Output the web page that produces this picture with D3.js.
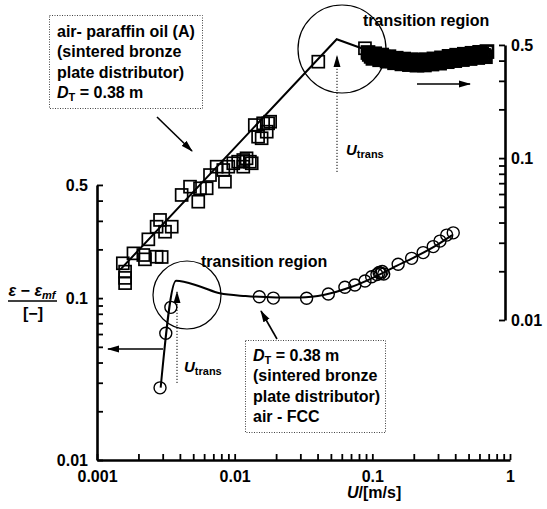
<!DOCTYPE html>
<html>
<head>
<meta charset="utf-8">
<script src="https://cdn.jsdelivr.net/npm/d3@7"></script>
<style>
body { margin: 0; background: #fff; }
svg { display: block; font-family: "Liberation Sans", Arial, sans-serif; font-weight: bold; }
</style>
</head>
<body>
<svg id="chart" width="547" height="509"></svg>
<script>
// air - FCC, read against the left axis (circles)
var fccU   = [0.00287, 0.00316, 0.00344, 0.0151, 0.0191, 0.0333, 0.0479, 0.0632, 0.0747, 0.0884, 0.0989,
              0.108, 0.112, 0.115, 0.118, 0.121, 0.154, 0.193, 0.234, 0.277, 0.310, 0.347, 0.387];
var fccEps = [0.0279, 0.0606, 0.0877, 0.102, 0.100, 0.0997, 0.106, 0.1166, 0.1205, 0.1276, 0.1356,
              0.140, 0.144, 0.142, 0.146, 0.141, 0.162, 0.176, 0.191, 0.208, 0.225, 0.245, 0.253];
var fccFitU   = [0.0029, 0.00375, 0.0056, 0.0078, 0.012, 0.02, 0.03, 0.045, 0.07, 0.1, 0.15, 0.2, 0.3, 0.38];
var fccFitEps = [0.028, 0.128, 0.118, 0.107, 0.103, 0.101, 0.101, 0.105, 0.117, 0.133, 0.158, 0.178, 0.215, 0.245];

// air - paraffin oil (A), read against the right axis (squares), below the transition
var oilU   = [0.00154, 0.0016, 0.0016, 0.0016, 0.00184, 0.00217, 0.00223, 0.00271, 0.00295, 0.00236,
              0.00271, 0.00287, 0.00312, 0.00349, 0.00412, 0.00474, 0.00544, 0.0056, 0.00626, 0.00662,
              0.0074, 0.0085, 0.00827, 0.00899, 0.00977, 0.0106, 0.01155, 0.0122, 0.0129, 0.0133,
              0.01155, 0.0140, 0.0161, 0.0175, 0.0148, 0.0157, 0.0171, 0.0181, 0.0405, 0.0884];
var oilEps = [0.0224, 0.0199, 0.0182, 0.0169, 0.0258, 0.0252, 0.0237, 0.0246, 0.0245, 0.0315,
              0.0377, 0.0415, 0.0351, 0.0377, 0.0592, 0.0666, 0.0538, 0.0651, 0.0651, 0.0786,
              0.0885, 0.0715, 0.0844, 0.0885, 0.0929, 0.0950, 0.0973, 0.0997, 0.0950, 0.0929,
              0.0885, 0.160, 0.164, 0.164, 0.1356, 0.1326, 0.1456, 0.1678, 0.394, 0.477];

// the dense cloud of squares above the transition
var cloudU   = [0.093, 0.095, 0.098, 0.101, 0.104, 0.107, 0.110, 0.113, 0.117, 0.120,
                0.124, 0.128, 0.132, 0.136, 0.140, 0.145, 0.149, 0.154, 0.159, 0.164,
                0.169, 0.174, 0.180, 0.186, 0.192, 0.198, 0.204, 0.211, 0.218, 0.225,
                0.232, 0.239, 0.247, 0.255, 0.263, 0.271, 0.280, 0.289, 0.298, 0.308,
                0.318, 0.328, 0.339, 0.350, 0.361, 0.373, 0.385, 0.397, 0.410, 0.423,
                0.437, 0.451, 0.466, 0.481, 0.497, 0.513, 0.530, 0.547, 0.565, 0.583,
                0.602, 0.622, 0.642, 0.663, 0.680];
var cloudEps = [0.449, 0.437, 0.425, 0.413, 0.441, 0.429, 0.417, 0.405, 0.433, 0.421,
                0.408, 0.397, 0.423, 0.411, 0.399, 0.388, 0.414, 0.404, 0.393, 0.382,
                0.409, 0.399, 0.388, 0.378, 0.405, 0.395, 0.385, 0.375, 0.403, 0.394,
                0.384, 0.376, 0.405, 0.397, 0.388, 0.381, 0.410, 0.402, 0.393, 0.386,
                0.416, 0.409, 0.401, 0.394, 0.425, 0.417, 0.408, 0.400, 0.432, 0.423,
                0.415, 0.406, 0.438, 0.429, 0.421, 0.412, 0.444, 0.435, 0.426, 0.418,
                0.450, 0.440, 0.432, 0.423, 0.455];

var oilFitU   = [0.00147, 0.0551, 0.0836];
var oilFitEps = [0.0204, 0.542, 0.477];

var xTickLabels = [0.001, 0.01, 0.1, 1];
var yTickLabels = [0.01, 0.1, 0.5];

var svg = d3.select('#chart');

// log decades: 137.7 px in x, 161.9 px in y
var x = d3.scaleLog().domain([0.001, 1]).range([97, 510]);
var yLeft = d3.scaleLog().domain([0.01, 0.5]).range([460, 460 - 161.9 * Math.log10(50)]);
var yRight = d3.scaleLog().domain([0.01, 0.5]).range([320, 320 - 161.9 * Math.log10(50)]);
var rightAxisX = 505;

var minorTicks = function (lo, hi) {
    var out = [];
    for (var d = lo; d < hi * 1.0001; d *= 10) {
        for (var m = 1; m <= 9; m++) {
            if (d * m <= hi * 1.0001) { out.push(d * m); }
        }
    }
    return out;
};
var labelOf = function (list) {
    return function (d) {
        return list.some(function (v) { return Math.abs(v - d) / v < 1e-6; }) ? String(+d.toPrecision(3)) : '';
    };
};

var defs = svg.append('defs');
defs.append('marker')
    .attr('id', 'head')
    .attr('viewBox', '0 0 12 8')
    .attr('refX', 11).attr('refY', 4)
    .attr('markerWidth', 12).attr('markerHeight', 8)
    .attr('markerUnits', 'userSpaceOnUse')
    .attr('orient', 'auto')
    .append('path').attr('d', 'M0,0.5 L12,4 L0,7.5 Z').attr('fill', '#000');

// axes
var styleAxis = function (g) {
    g.select('.domain').attr('stroke-width', 2.6);
    g.selectAll('.tick line').attr('stroke-width', 1.8);
    g.selectAll('.tick text').attr('font-size', 16).attr('font-weight', 'bold')
        .attr('font-family', '"Liberation Sans", Arial, sans-serif').attr('fill', '#000');
};

svg.append('g')
    .attr('transform', 'translate(0,460)')
    .call(d3.axisBottom(x).tickValues(minorTicks(0.001, 1)).tickFormat(labelOf(xTickLabels))
        .tickSizeInner(-6).tickSizeOuter(0).tickPadding(11))
    .call(styleAxis);

svg.append('g')
    .attr('transform', 'translate(97,0)')
    .call(d3.axisLeft(yLeft).tickValues(minorTicks(0.01, 0.5)).tickFormat(labelOf(yTickLabels))
        .tickSizeInner(-6).tickSizeOuter(0).tickPadding(9))
    .call(styleAxis);

svg.append('g')
    .attr('transform', 'translate(' + rightAxisX + ',0)')
    .call(d3.axisRight(yRight).tickValues(minorTicks(0.01, 0.5)).tickFormat(labelOf(yTickLabels))
        .tickSizeInner(-6).tickSizeOuter(0).tickPadding(6))
    .call(styleAxis);

// fitted lines
var lineLeft = d3.line().x(function (d) { return x(d[0]); }).y(function (d) { return yLeft(d[1]); }).curve(d3.curveMonotoneX);
var lineRight = d3.line().x(function (d) { return x(d[0]); }).y(function (d) { return yRight(d[1]); });

svg.append('path')
    .datum(d3.zip(fccFitU, fccFitEps))
    .attr('d', lineLeft)
    .attr('fill', 'none').attr('stroke', '#000').attr('stroke-width', 2);

svg.append('path')
    .datum(d3.zip(oilFitU, oilFitEps))
    .attr('d', lineRight)
    .attr('fill', 'none').attr('stroke', '#000').attr('stroke-width', 2);

// data points
var sq = 12;
var squares = function (us, eps, sw) {
    svg.append('g').selectAll('rect')
        .data(d3.zip(us, eps))
        .join('rect')
        .attr('x', function (d) { return x(d[0]) - sq / 2; })
        .attr('y', function (d) { return yRight(d[1]) - sq / 2; })
        .attr('width', sq).attr('height', sq)
        .attr('fill', 'none').attr('stroke', '#000').attr('stroke-width', sw);
};
squares(oilU, oilEps, 1.7);
squares(cloudU, cloudEps, 2.7);

svg.append('g').selectAll('circle')
    .data(d3.zip(fccU, fccEps))
    .join('circle')
    .attr('cx', function (d) { return x(d[0]); })
    .attr('cy', function (d) { return yLeft(d[1]); })
    .attr('r', 6)
    .attr('fill', 'none').attr('stroke', '#000').attr('stroke-width', 1.4);

// annotations
var arrow = function (x1, y1, x2, y2, dotted) {
    svg.append('line')
        .attr('x1', x1).attr('y1', y1).attr('x2', x2).attr('y2', y2)
        .attr('stroke', '#000').attr('stroke-width', dotted ? 1 : 1.6)
        .attr('stroke-dasharray', dotted ? '1.2,1.8' : null)
        .attr('marker-end', 'url(#head)');
};
arrow(157, 117, 192, 151);
arrow(417, 84, 470, 84);
arrow(163, 349, 108, 349);
arrow(277, 339, 261, 311);
arrow(337, 172, 337, 56, true);
arrow(177, 383, 177, 292, true);

svg.append('circle').attr('cx', 342).attr('cy', 49).attr('r', 44)
    .attr('fill', 'none').attr('stroke', '#000').attr('stroke-width', 1.2);
svg.append('circle').attr('cx', 187).attr('cy', 295).attr('r', 34)
    .attr('fill', 'none').attr('stroke', '#000').attr('stroke-width', 1.2);

var label = function (tx, ty, txt) {
    return svg.append('text').attr('x', tx).attr('y', ty).attr('font-size', 16).text(txt);
};
label(363, 26, 'transition region');
label(201, 267, 'transition region');

var uTrans = function (tx, ty) {
    var t = svg.append('text').attr('x', tx).attr('y', ty).attr('font-size', 15);
    t.append('tspan').attr('font-style', 'italic').text('U');
    t.append('tspan').attr('font-size', 11).attr('dy', 3).text('trans');
};
uTrans(346, 155);
uTrans(184, 372);

var box = function (bx, by, bw, bh, lines, tx, ty) {
    svg.append('rect').attr('x', bx).attr('y', by).attr('width', bw).attr('height', bh)
        .attr('fill', 'none').attr('stroke', '#444').attr('stroke-width', 1).attr('stroke-dasharray', '1,1.5');
    lines.forEach(function (ln, i) {
        var t = svg.append('text').attr('x', tx).attr('y', ty + i * 20.3).attr('font-size', 16);
        if (ln === 'DT') {
            t.append('tspan').attr('font-style', 'italic').text('D');
            t.append('tspan').attr('font-size', 11).attr('dy', 3).text('T');
            t.append('tspan').attr('dy', -3).text(' = 0.38 m');
        } else {
            t.text(ln);
        }
    });
};
box(49.5, 15.5, 153, 93, ['air- paraffin oil (A)', '(sintered bronze', 'plate distributor)', 'DT'], 57, 37);
box(245.5, 340.5, 140, 92, ['DT', '(sintered bronze', 'plate distributor)', 'air - FCC'], 253, 361);

// axis titles
var xt = svg.append('text').attr('x', 347).attr('y', 498).attr('font-size', 16);
xt.append('tspan').attr('font-style', 'italic').text('U');
xt.append('tspan').text('/[m/s]');

var yt = svg.append('text').attr('x', 32).attr('y', 296).attr('font-size', 16).attr('text-anchor', 'middle');
yt.append('tspan').attr('font-style', 'italic').text('ε');
yt.append('tspan').text(' − ');
yt.append('tspan').attr('font-style', 'italic').text('ε');
yt.append('tspan').attr('font-style', 'italic').attr('font-size', 11).attr('dy', 3).text('mf');
svg.append('line').attr('x1', 8).attr('x2', 57).attr('y1', 301).attr('y2', 301)
    .attr('stroke', '#000').attr('stroke-width', 1.4);
svg.append('text').attr('x', 33).attr('y', 319).attr('font-size', 16).attr('text-anchor', 'middle').text('[−]');
</script>
</body>
</html>
